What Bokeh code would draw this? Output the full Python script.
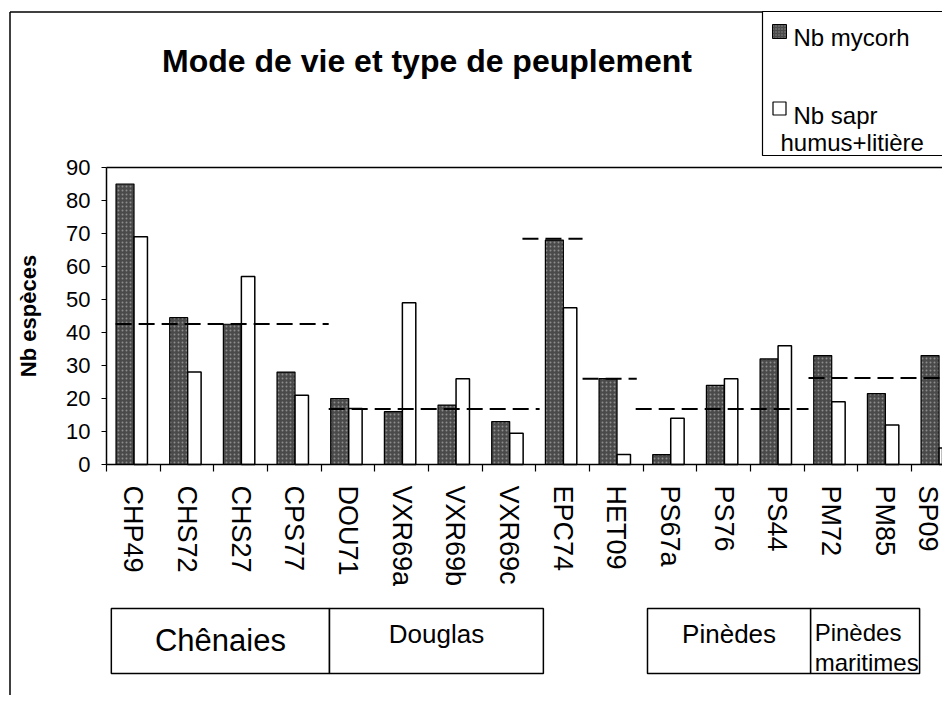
from bokeh.plotting import figure
from bokeh.models import Range1d, FixedTicker
from bokeh.core.properties import value
from bokeh.embed import file_html
from bokeh.resources import INLINE

# ---------------- data ----------------
sites = ["CHP49", "CHS72", "CHS27", "CPS77", "DOU71", "VXR69a", "VXR69b", "VXR69c",
         "EPC74", "HET09", "PS67a", "PS76", "PS44", "PM72", "PM85", "SP09"]
nb_mycorh = [85, 44.5, 42.5, 28, 20, 16, 18, 13, 68, 26, 3, 24, 32, 33, 21.5, 33]
nb_sapr = [69, 28, 57, 21, 17, 49, 26, 9.5, 47.5, 3, 14, 26, 36, 19, 12, 5]
y_ticks = [0, 10, 20, 30, 40, 50, 60, 70, 80, 90]

# dashed reference levels (in category units along x)
ref_start = [0.17, 4.14, 7.75, 8.87, 9.86, 13.08]
ref_end = [4.14, 8.07, 8.87, 9.88, 13.08, 16.0]
ref_level = [42.6, 16.8, 68.4, 26.0, 16.8, 26.2]

# stand-type group boxes (in category units along x)
group_names = ["Chênaies", "Douglas", "Pinèdes", "Pinèdes maritimes"]
group_start = [0.09, 4.155, 10.08, 13.12]
group_end = [4.155, 8.14, 13.12, 15.15]

title_text = "Mode de vie et type de peuplement"
legend_labels = ["Nb mycorh", "Nb sapr", "humus+litière"]

FONT = "Liberation Sans"
MYC_FILL = "#4a4a4a"

# ---------------- geometry helpers (canvas pixels -> data units) ----------------
PX_X0, PX_PER_CAT = 106.0, 53.67
PX_Y0, PX_PER_UNIT = 464.0, 3.3


def dx(px):
    return (px - PX_X0) / PX_PER_CAT


def dy(py):
    return (PX_Y0 - py) / PX_PER_UNIT


W, H = 942, 695
p = figure(width=W, height=H, output_backend="svg", toolbar_location=None,
           x_range=Range1d(dx(0), dx(W)), y_range=Range1d(dy(H), dy(0)),
           min_border=0, min_border_left=0, min_border_right=0,
           min_border_top=0, min_border_bottom=0)
p.outline_line_color = None
p.xgrid.visible = False
p.ygrid.visible = False
p.background_fill_color = "white"
p.border_fill_color = "white"

# ---- y axis ----
ya = p.yaxis[0]
ya.fixed_location = 0
ya.bounds = (0, 90)
ya.ticker = FixedTicker(ticks=y_ticks)
ya.axis_line_color = "black"
ya.axis_line_width = 1.5
ya.major_tick_out = 5
ya.major_tick_in = 0
ya.major_tick_line_width = 1.2
ya.minor_tick_out = 0
ya.minor_tick_in = 0
ya.major_label_text_font = FONT
ya.major_label_text_font_size = "22px"
ya.major_label_text_color = "black"
ya.major_label_standoff = 11
ya.axis_label = "Nb espèces"
ya.axis_label_text_font = FONT
ya.axis_label_text_font_style = "bold"
ya.axis_label_text_font_size = "22px"
ya.axis_label_text_color = "black"
ya.axis_label_standoff = 22

# ---- x axis ----
xa = p.xaxis[0]
xa.fixed_location = 0
xa.bounds = (0, len(sites))
xa.ticker = FixedTicker(ticks=[i + 0.5 for i in range(len(sites))],
                        minor_ticks=list(range(len(sites) + 1)))
xa.major_label_overrides = {i + 0.5: s for i, s in enumerate(sites)}
xa.major_tick_line_color = None
xa.major_tick_out = 7
xa.major_tick_in = 0
xa.minor_tick_out = 7
xa.minor_tick_in = 0
xa.minor_tick_line_color = "black"
xa.minor_tick_line_width = 1.2
xa.axis_line_color = "black"
xa.axis_line_width = 1.5
xa.major_label_orientation = "vertical"
xa.major_label_text_font = FONT
xa.major_label_text_font_size = "27px"
xa.major_label_text_color = "black"
xa.major_label_standoff = 14

# ---- outer chart border & plot-area top line ----
p.segment(x0=[dx(9.5), dx(9.5)], y0=[dy(11.5), dy(11.5)],
          x1=[dx(9.5), dx(960)], y1=[dy(710), dy(11.5)],
          line_color="black", line_width=1.5)
p.segment(x0=[0], y0=[90], x1=[len(sites) + 1], y1=[90], line_color="black", line_width=1.5)

# ---- bars ----
xs = list(range(len(sites)))
p.vbar(x=[i + 0.345 for i in xs], top=nb_mycorh, bottom=0, width=0.335,
       fill_color=MYC_FILL, line_color="black", line_width=1.2,
       hatch_pattern="dot", hatch_color="#8c8c8c", hatch_scale=4, hatch_weight=1)
p.vbar(x=[i + 0.638 for i in xs], top=nb_sapr, bottom=0, width=0.25,
       fill_color="white", line_color="black", line_width=1.5)

# ---- dashed reference lines ----
p.segment(x0=ref_start, y0=ref_level, x1=ref_end, y1=ref_level,
          line_color="black", line_width=2, line_dash="16 7")

# ---- title ----
p.text(x=[dx(426.5)], y=[dy(60)], text=[title_text], text_font=value(FONT),
       text_font_style="bold", text_font_size="32px", text_align="center",
       text_baseline="alphabetic", text_color="black")

# ---- legend (drawn) ----
p.quad(left=[dx(762)], right=[dx(990)], bottom=[dy(155)], top=[dy(11)],
       fill_color="white", line_color="black", line_width=1.2)
p.scatter(x=[dx(779)], y=[dy(31)], marker="square", size=14,
          fill_color=MYC_FILL, line_color="black", line_width=1,
          hatch_pattern="dot", hatch_color="#8c8c8c", hatch_scale=3)
p.scatter(x=[dx(779)], y=[dy(108)], marker="square", size=13,
          fill_color="white", line_color="black", line_width=1.2)
p.text(x=[dx(793), dx(793), dx(780)], y=[dy(37), dy(115), dy(142)], text=legend_labels,
       text_font=value(FONT), text_font_size="24px", text_align="left",
       text_baseline="alphabetic", text_color="black")

# ---- stand-type group boxes ----
p.quad(left=group_start, right=group_end, bottom=[dy(673)] * 4, top=[dy(608)] * 4,
       fill_color="white", line_color="black", line_width=1.5)
mid = [(a + b) / 2 for a, b in zip(group_start, group_end)]
p.text(x=[mid[0]], y=[dy(640)], text=[group_names[0]], text_font=value(FONT),
       text_font_size="31px", text_align="center", text_baseline="alphabetic",
       text_color="black")
p.text(x=[mid[1], mid[2]], y=[dy(633), dy(633)], text=[group_names[1], group_names[2]],
       text_font=value(FONT), text_font_size="26px", text_align="center",
       text_baseline="alphabetic", text_color="black")
mar_words = group_names[3].split(" ")
p.text(x=[group_start[3] + dx(814) - dx(810)] * 2, y=[dy(632), dy(662)], text=mar_words,
       text_font=value(FONT), text_font_size="24px", text_align="left",
       text_baseline="alphabetic", text_color="black")

open("out.html", "w").write(file_html(p, INLINE))
